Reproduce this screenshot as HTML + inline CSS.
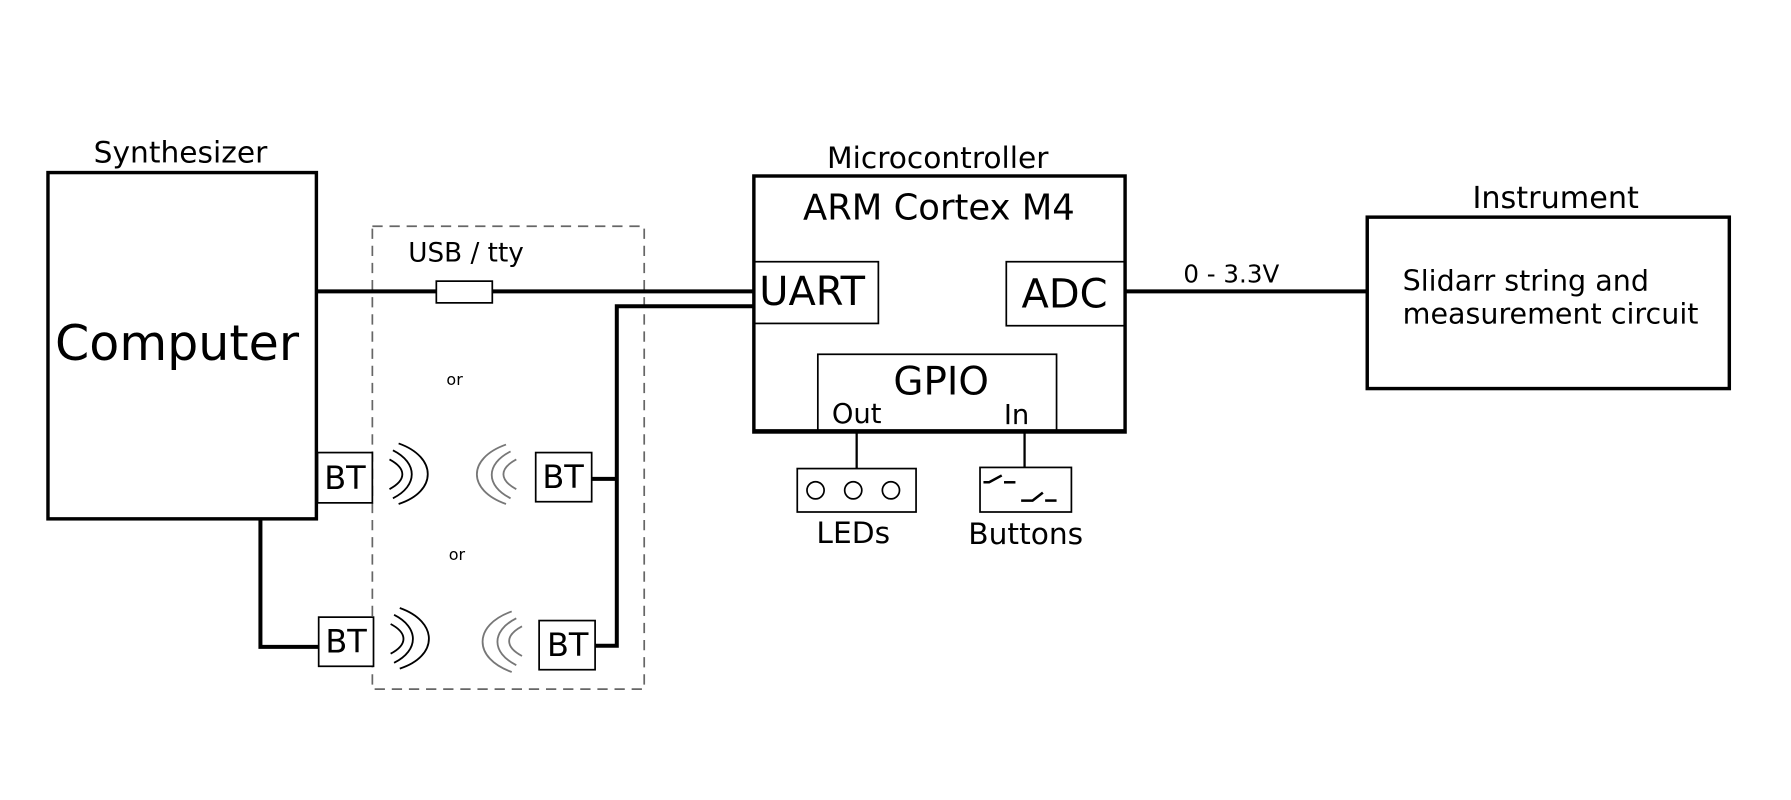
<!DOCTYPE html>
<html><head><meta charset="utf-8"><style>
html,body{margin:0;padding:0;background:#fff;}
svg{display:block;}
text{font-family:"DejaVu Sans","Liberation Sans",sans-serif;fill:#000;}
</style></head><body>
<svg width="1791" height="800" viewBox="0 0 1568 700" preserveAspectRatio="none" xmlns="http://www.w3.org/2000/svg">
<rect width="1568" height="700" fill="#fff"/>
<text x="158" y="142" font-size="26" text-anchor="middle">Synthesizer</text>
<rect x="42" y="151" width="235" height="303" fill="none" stroke="#000" stroke-width="3"/>
<text x="155" y="315" font-size="43" text-anchor="middle">Computer</text>
<rect x="326" y="198" width="238" height="405" fill="none" stroke="#666" stroke-width="1.5" stroke-dasharray="9,6"/>
<text x="408" y="229" font-size="23" text-anchor="middle">USB / tty</text>
<text x="398" y="337" font-size="14" text-anchor="middle">or</text>
<text x="400" y="490" font-size="14" text-anchor="middle">or</text>
<g stroke="#000" stroke-width="3.5" fill="none">
<line x1="277" y1="255" x2="660" y2="255"/>
<polyline points="660,268 540,268 540,565 521,565"/>
<line x1="540" y1="419" x2="518" y2="419"/>
<polyline points="228,454 228,566 279,566"/>
<line x1="985" y1="255" x2="1197" y2="255"/>
</g>
<rect x="382" y="246" width="49" height="19" fill="#fff" stroke="#000" stroke-width="1.5"/>
<g fill="#fff" stroke="#000" stroke-width="1.5">
<rect x="278" y="396" width="48" height="44"/>
<rect x="469" y="396" width="49" height="43"/>
<rect x="279" y="540" width="48" height="43"/>
<rect x="472" y="543" width="49" height="43"/>
</g>
<g font-size="28" text-anchor="middle">
<text x="302" y="428">BT</text>
<text x="493" y="427">BT</text>
<text x="303" y="571">BT</text>
<text x="497" y="574">BT</text>
</g>
<g fill="none" stroke="#000" stroke-width="1.6">
<path d="M341,402 C356,410 356,420 341,428"/>
<path d="M344,394 C366,405 366,425 344,436"/>
<path d="M349,388 C383,400 383,430 349,441"/>
<path d="M342,546 C357,554 357,564 342,572"/>
<path d="M345,538 C367,549 367,569 345,580"/>
<path d="M350,532 C384,544 384,574 350,585"/>
</g>
<g fill="none" stroke="#777" stroke-width="1.6">
<path d="M452,402 C437,410 437,420 452,428"/>
<path d="M447,395 C425,406 425,425 447,436"/>
<path d="M443,389 C409,401 409,429 443,441"/>
<path d="M457,548 C442,556 442,566 457,574"/>
<path d="M452,541 C430,552 430,571 452,582"/>
<path d="M448,535 C414,547 414,576 448,588"/>
</g>
<text x="821" y="147" font-size="26" text-anchor="middle">Microcontroller</text>
<rect x="660" y="154" width="325" height="224" fill="none" stroke="#000" stroke-width="3"/>
<text x="822" y="192" font-size="31" text-anchor="middle">ARM Cortex M4</text>
<rect x="660" y="229" width="109" height="54" fill="none" stroke="#000" stroke-width="1.5"/>
<text x="711" y="267" font-size="35" text-anchor="middle">UART</text>
<rect x="881" y="229" width="104" height="56" fill="none" stroke="#000" stroke-width="1.5"/>
<text x="932" y="269" font-size="35" text-anchor="middle">ADC</text>
<rect x="716" y="310" width="209" height="68" fill="none" stroke="#000" stroke-width="1.5"/>
<text x="824" y="345" font-size="34" text-anchor="middle">GPIO</text>
<text x="750" y="370" font-size="24" text-anchor="middle">Out</text>
<text x="890" y="371" font-size="24" text-anchor="middle">In</text>
<line x1="660" y1="377" x2="985" y2="377" stroke="#000" stroke-width="3"/>
<g stroke="#000" stroke-width="2">
<line x1="750" y1="378" x2="750" y2="410"/>
<line x1="897" y1="378" x2="897" y2="409"/>
</g>
<rect x="698" y="410" width="104" height="38" fill="none" stroke="#000" stroke-width="1.5"/>
<g fill="none" stroke="#000" stroke-width="1.5">
<circle cx="714" cy="429" r="7.5"/><circle cx="747" cy="429" r="7.5"/><circle cx="780" cy="429" r="7.5"/>
</g>
<text x="747" y="475" font-size="26" text-anchor="middle">LEDs</text>
<rect x="858" y="409" width="80" height="39" fill="none" stroke="#000" stroke-width="1.5"/>
<g stroke="#000" stroke-width="2.2" fill="none">
<polyline points="861,422 866,422 877,416"/><line x1="879" y1="422" x2="889" y2="422"/>
<polyline points="894,438 904,438 913,431"/><line x1="915" y1="438" x2="925" y2="438"/>
</g>
<text x="898" y="476" font-size="26" text-anchor="middle">Buttons</text>
<text x="1078" y="247" font-size="21.5" text-anchor="middle">0 - 3.3V</text>
<text x="1362" y="182" font-size="26.5" text-anchor="middle">Instrument</text>
<rect x="1197" y="190" width="317" height="150" fill="none" stroke="#000" stroke-width="3"/>
<text x="1228" y="254" font-size="25">Slidarr string and</text>
<text x="1228" y="283" font-size="25">measurement circuit</text>
</svg>
</body></html>
